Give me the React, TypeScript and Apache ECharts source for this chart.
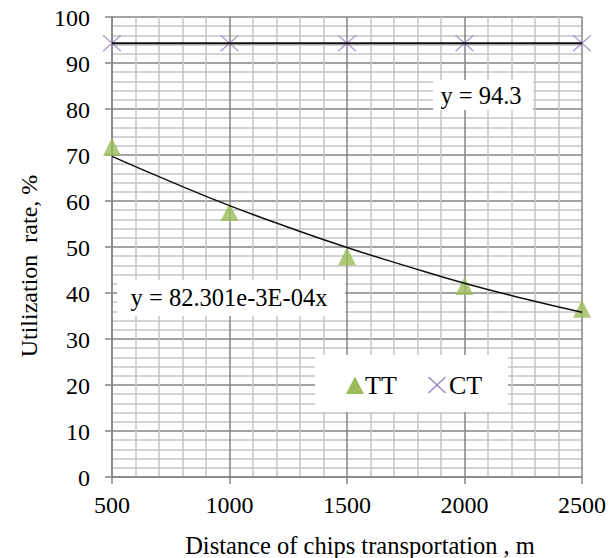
import React, { useEffect, useRef } from "react";
import * as echarts from "echarts";

const distances = [500, 1000, 1500, 2000, 2500];
const ttValues = [71.8, 57.6, 48.0, 41.5, 36.6];
const ctValues = [94.3, 94.3, 94.3, 94.3, 94.3];
const ttTrendX = [500, 750, 1000, 1250, 1500, 1750, 2000, 2250, 2500];
const ttTrendY = [69.7, 64.2, 59.0, 54.3, 49.9, 45.9, 42.1, 38.8, 35.8];
const ctTrendX = [500, 2500];
const ctTrendY = [94.3, 94.3];
const xTickLabels = [500, 1000, 1500, 2000, 2500];
const yTickLabels = [0, 10, 20, 30, 40, 50, 60, 70, 80, 90, 100];
const legendNames = ["TT", "CT"];
const ttEquation = "y = 82.301e-3E-04x";
const ctEquation = "y = 94.3";
const xTitle = "Distance of chips transportation , m";
const yTitle = "Utilization  rate, %";

const FAMILY = "Liberation Serif";
const MAJOR = "#858585";
const MINOR = "#c4c4c4";
const GREEN = "#9bbb59";
const PURPLE = "#9f89c4";
const CROSS =
  "path://M0,1.1L1.1,0L10,8.9L18.9,0L20,1.1L11.1,10L20,18.9L18.9,20L10,11.1L1.1,20L0,18.9L8.9,10Z";

const txt = (text: string, x: number, y: number, size: number, align: string, z = 10, extra: any = {}) => ({
  type: "text",
  x,
  y,
  z,
  ...extra,
  style: {
    text,
    fill: "#000",
    fontFamily: FAMILY,
    fontSize: size,
    textAlign: align,
    textVerticalAlign: "middle",
  },
});

export default function App() {
  const ref = useRef<HTMLDivElement>(null);
  useEffect(() => {
    if (!ref.current) return;
    const chart = echarts.init(ref.current, undefined, { renderer: "svg" });
    const axisCommon = {
      axisLine: { show: true, lineStyle: { color: MAJOR, width: 1.5 } },
      axisTick: { show: true, length: 7, lineStyle: { color: MAJOR, width: 1.5 } },
      axisLabel: { show: false },
      minorTick: { show: false, splitNumber: 5 },
      splitLine: { show: true, lineStyle: { color: MAJOR, width: 1.5 } },
      minorSplitLine: { show: true, lineStyle: { color: MINOR, width: 1.5 } },
    };
    chart.setOption({
      animation: false,
      backgroundColor: "#ffffff",
      grid: { left: 112, right: 34, top: 17, bottom: 81, containLabel: false },
      xAxis: {
        type: "value",
        min: xTickLabels[0],
        max: xTickLabels[xTickLabels.length - 1],
        interval: 500,
        ...axisCommon,
      },
      yAxis: {
        type: "value",
        min: yTickLabels[0],
        max: yTickLabels[yTickLabels.length - 1],
        interval: 10,
        ...axisCommon,
      },
      series: [
        {
          name: legendNames[0],
          type: "scatter",
          symbol: "triangle",
          symbolSize: [18, 18],
          itemStyle: { color: GREEN },
          data: distances.map((d, i) => [d, ttValues[i]]),
          z: 3,
        },
        {
          name: legendNames[1],
          type: "scatter",
          symbol: CROSS,
          symbolSize: [19, 17],
          itemStyle: { color: PURPLE },
          data: distances.map((d, i) => [d, ctValues[i]]),
          z: 3,
        },
        {
          name: "TT trend",
          type: "line",
          smooth: true,
          showSymbol: false,
          symbol: "none",
          lineStyle: { color: "#111", width: 1.5 },
          data: ttTrendX.map((d, i) => [d, ttTrendY[i]]),
          z: 4,
        },
        {
          name: "CT trend",
          type: "line",
          showSymbol: false,
          symbol: "none",
          lineStyle: { color: "#111", width: 2 },
          data: ctTrendX.map((d, i) => [d, ctTrendY[i]]),
          z: 4,
        },
      ],
    });

    const axisY0 = chart.convertToPixel({ yAxisIndex: 0 }, yTickLabels[0]) as number;
    const axisX0 = chart.convertToPixel({ xAxisIndex: 0 }, xTickLabels[0]) as number;
    const graphic: any[] = [];
    xTickLabels.forEach((v) => {
      const px = chart.convertToPixel({ xAxisIndex: 0 }, v) as number;
      graphic.push(txt(String(v), px, axisY0 + 28, 24, "center"));
    });
    yTickLabels.forEach((v) => {
      const py = chart.convertToPixel({ yAxisIndex: 0 }, v) as number;
      graphic.push(txt(String(v), axisX0 - 22, py + 1, 24, "right"));
    });
    // trendline equation boxes
    graphic.push({ type: "rect", shape: { x: 433, y: 80, width: 100, height: 30 }, style: { fill: "#ffffff" }, z: 5 });
    graphic.push(txt(ctEquation, 481, 95, 24.5, "center", 6));
    graphic.push({ type: "rect", shape: { x: 117, y: 280, width: 228, height: 36 }, style: { fill: "#ffffff" }, z: 5 });
    graphic.push(txt(ttEquation, 229, 297, 24.5, "center", 6));
    // legend
    graphic.push({ type: "rect", shape: { x: 315, y: 355, width: 193, height: 57 }, style: { fill: "#ffffff" }, z: 7 });
    graphic.push({
      type: "polygon",
      shape: { points: [[346, 394], [355, 376.5], [364, 394]] },
      style: { fill: GREEN },
      z: 8,
    });
    graphic.push(txt(legendNames[0], 365, 385, 26, "left", 8));
    graphic.push({
      type: "line",
      shape: { x1: 428.5, y1: 377, x2: 445.5, y2: 393 },
      style: { stroke: PURPLE, lineWidth: 1.5 },
      z: 8,
    });
    graphic.push({
      type: "line",
      shape: { x1: 445.5, y1: 377, x2: 428.5, y2: 393 },
      style: { stroke: PURPLE, lineWidth: 1.5 },
      z: 8,
    });
    graphic.push(txt(legendNames[1], 449, 385, 26, "left", 8));
    // axis titles
    graphic.push(txt(xTitle, 360, 545, 24.5, "center"));
    graphic.push(txt(yTitle, 29, 266, 24, "center", 10, { rotation: Math.PI / 2 }));

    chart.setOption({ graphic });
    return () => chart.dispose();
  }, []);
  return (
    <div
      ref={ref}
      style={{ position: "fixed", left: 0, top: 0, width: 616, height: 558, background: "#fff" }}
    />
  );
}
